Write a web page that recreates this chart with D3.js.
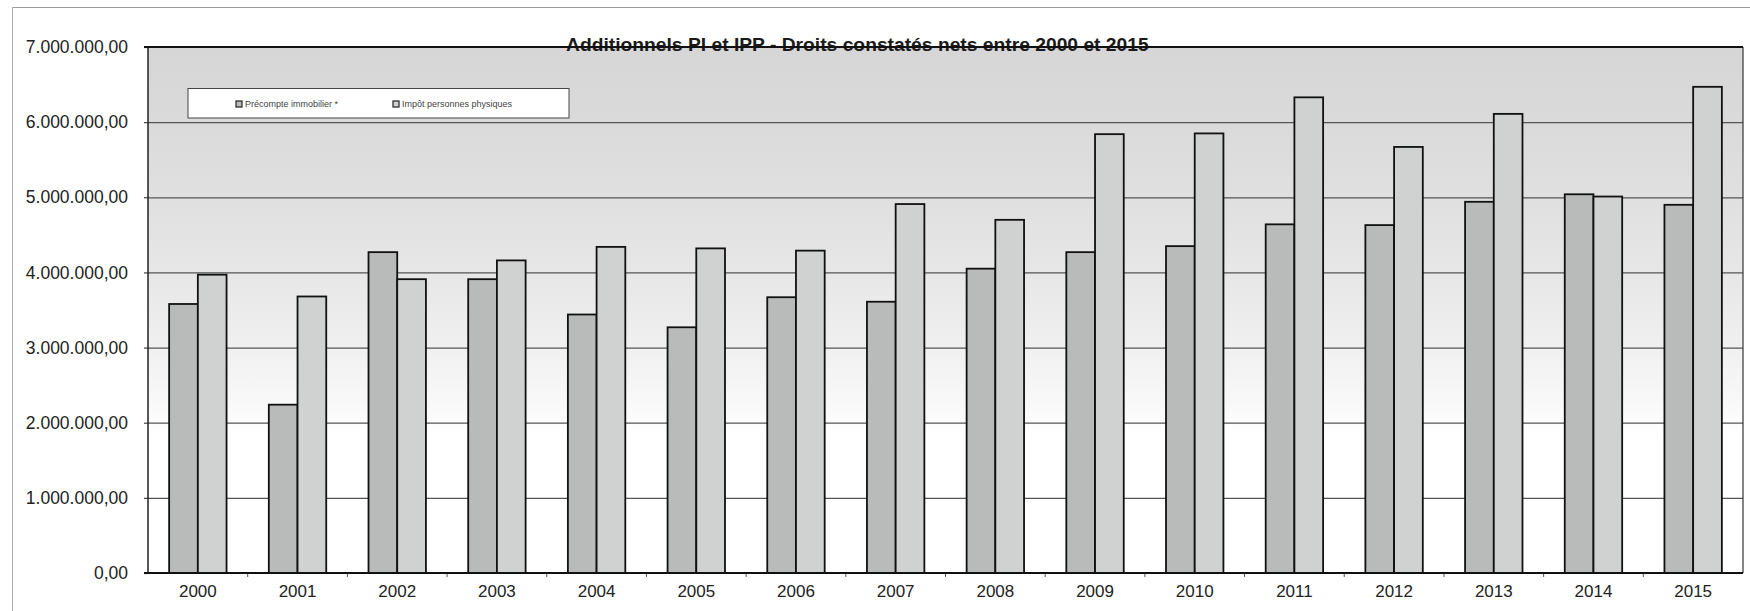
<!DOCTYPE html>
<html>
<head>
<meta charset="utf-8">
<script src="https://cdn.jsdelivr.net/npm/d3@7"></script>
<style>
  html, body { margin: 0; padding: 0; background: #ffffff; }
  svg { display: block; }
</style>
</head>
<body>
<svg id="chart" width="1750" height="611"></svg>
<script>
// ---------------- DATA ----------------
const title = "Additionnels PI et IPP - Droits constatés nets entre 2000 et 2015";
const years = ["2000","2001","2002","2003","2004","2005","2006","2007","2008","2009","2010","2011","2012","2013","2014","2015"];
const seriesNames = ["Précompte immobilier *", "Impôt personnes physiques"];
const precompte = [3580000, 2240000, 4270000, 3910000, 3440000, 3270000, 3670000, 3610000, 4050000, 4270000, 4350000, 4640000, 4630000, 4940000, 5040000, 4900000];
const ipp       = [3970000, 3680000, 3910000, 4160000, 4340000, 4320000, 4290000, 4910000, 4700000, 5840000, 5850000, 6330000, 5670000, 6110000, 5010000, 6470000];
const yTicks = [0, 1000000, 2000000, 3000000, 4000000, 5000000, 6000000, 7000000];

// ---------------- LAYOUT ----------------
const svg = d3.select("#chart");
const X0 = 148, X1 = 1743, Y0 = 573, Y1 = 47;
const colors = ["#b8bbb9", "#cfd2d0"];
const valuesBySeries = [precompte, ipp];

const x = d3.scaleBand().domain(years).range([X0, X1]).paddingInner(0).paddingOuter(0);
const bw = x.bandwidth();
const xs = d3.scaleBand().domain(seriesNames).range([bw * 0.212, bw * 0.788]).padding(0);
const y = d3.scaleLinear().domain([0, 7000000]).range([Y0, Y1]);

const loc = d3.formatLocale({decimal: ",", thousands: ".", grouping: [3], currency: ["", ""]});
const fmt = loc.format(",.2f");

// outer frame (scan of the sheet)
svg.append("line").attr("x1", 12).attr("x2", 1750).attr("y1", 7.5).attr("y2", 7.5)
  .attr("stroke", "#9a9a9a").attr("stroke-width", 1.2);
svg.append("line").attr("x1", 12.5).attr("x2", 12.5).attr("y1", 7).attr("y2", 611)
  .attr("stroke", "#b0b0b0").attr("stroke-width", 1);

// plot background gradient
const defs = svg.append("defs");
const grad = defs.append("linearGradient").attr("id", "bg")
  .attr("gradientUnits", "userSpaceOnUse")
  .attr("x1", 0).attr("x2", 0).attr("y1", Y1).attr("y2", Y0);
[[0, "#d6d6d6"], [0.14, "#dadada"], [0.29, "#e0e0e0"], [0.43, "#e7e7e7"],
 [0.57, "#f0f0f0"], [0.68, "#f9f9f9"], [0.74, "#ffffff"], [1, "#ffffff"]]
  .forEach(([o, c]) => grad.append("stop").attr("offset", o).attr("stop-color", c));

svg.append("rect").attr("x", X0).attr("y", Y1).attr("width", X1 - X0).attr("height", Y0 - Y1)
  .attr("fill", "url(#bg)");

// gridlines
const grid = svg.append("g").attr("transform", `translate(${X0},0)`)
  .call(d3.axisLeft(y).tickValues(yTicks.slice(1, -1)).tickSize(-(X1 - X0)).tickFormat(""));
grid.select(".domain").remove();
grid.selectAll("line").attr("stroke", "#555").attr("stroke-width", 1.2);

// y axis labels + small ticks
const yAxis = svg.append("g").attr("transform", `translate(${X0},0)`)
  .call(d3.axisLeft(y).tickValues(yTicks).tickSize(4).tickPadding(16).tickFormat(fmt));
yAxis.select(".domain").remove();
yAxis.selectAll("line").attr("stroke", "#444").attr("stroke-width", 1.2);
yAxis.selectAll("text").attr("font-family", "'Liberation Sans', Arial, sans-serif")
  .attr("font-size", 17.5).attr("fill", "#222");

// bars
const groups = svg.append("g").selectAll("g").data(years).join("g")
  .attr("transform", d => `translate(${x(d)},0)`);
groups.selectAll("rect")
  .data((d, i) => seriesNames.map((s, k) => ({s, k, v: valuesBySeries[k][i]})))
  .join("rect")
  .attr("x", d => xs(d.s))
  .attr("width", xs.bandwidth())
  .attr("y", d => y(d.v))
  .attr("height", d => Y0 - y(d.v))
  .attr("fill", d => colors[d.k])
  .attr("stroke", "#111")
  .attr("stroke-width", 1.8);

// plot borders
svg.append("line").attr("x1", X0).attr("x2", X0).attr("y1", Y1).attr("y2", Y0)
  .attr("stroke", "#222").attr("stroke-width", 1.5);
svg.append("line").attr("x1", X1).attr("x2", X1).attr("y1", Y1).attr("y2", Y0)
  .attr("stroke", "#333").attr("stroke-width", 1.2);

// x axis
const xAxis = svg.append("g").attr("transform", `translate(0,${Y0})`)
  .call(d3.axisBottom(x).tickSize(0).tickPadding(12));
xAxis.select(".domain").remove();
xAxis.selectAll("text").attr("font-family", "'Liberation Sans', Arial, sans-serif")
  .attr("font-size", 17).attr("fill", "#222");
svg.append("g").selectAll("line").data(years.slice(1)).join("line")
  .attr("x1", d => x(d)).attr("x2", d => x(d))
  .attr("y1", Y0).attr("y2", Y0 + 4)
  .attr("stroke", "#555").attr("stroke-width", 1);
svg.append("line").attr("x1", X0 - 4).attr("x2", X1).attr("y1", Y0).attr("y2", Y0)
  .attr("stroke", "#111").attr("stroke-width", 2.2);

// legend
const lg = svg.append("g");
lg.append("rect").attr("x", 188).attr("y", 88.5).attr("width", 381).attr("height", 29.5)
  .attr("fill", "#ffffff").attr("stroke", "#444").attr("stroke-width", 1);
const legX = [239, 396];
seriesNames.forEach((s, k) => {
  lg.append("rect").attr("x", legX[k] - 3).attr("y", 101).attr("width", 6).attr("height", 6)
    .attr("fill", colors[k]).attr("stroke", "#222").attr("stroke-width", 1.2);
  lg.append("text").attr("x", legX[k] + 6).attr("y", 107)
    .attr("font-family", "'Liberation Sans', Arial, sans-serif")
    .attr("font-size", 9).attr("fill", "#444").text(s);
});

// title (drawn under the top border, as in the original)
const t = svg.append("text").attr("x", 566).attr("y", 51)
  .attr("font-family", "'Liberation Sans', Arial, sans-serif")
  .attr("font-weight", "bold").attr("font-size", 17).attr("fill", "#1a1a1a").text(title);
const tw = t.node().getComputedTextLength();
t.attr("font-size", 17 * 583 / tw);

// top border (7.000.000 line)
svg.append("line").attr("x1", X0 - 4).attr("x2", X1).attr("y1", Y1).attr("y2", Y1)
  .attr("stroke", "#111").attr("stroke-width", 2);
</script>
</body>
</html>
